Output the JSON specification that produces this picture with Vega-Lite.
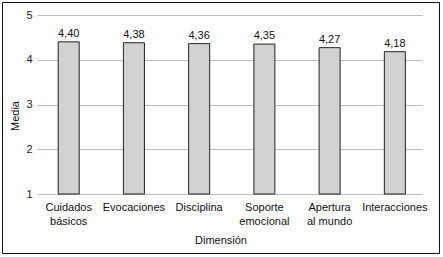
{
  "$schema": "https://vega.github.io/schema/vega-lite/v6.json",
  "width": 437,
  "height": 251,
  "autosize": {"type": "none"},
  "padding": {"left": 2, "top": 2, "right": 4, "bottom": 4},
  "background": "white",
  "config": {
    "view": {"stroke": "#111", "strokeWidth": 1},
    "font": "Liberation Sans",
    "locale": {"number": {"decimal": ",", "thousands": ".", "grouping": [3], "currency": ["", " €"]}}
  },
  "data": {
    "values": [
      {"Dimensión": "Cuidados básicos", "Media": 4.40},
      {"Dimensión": "Evocaciones", "Media": 4.38},
      {"Dimensión": "Disciplina", "Media": 4.36},
      {"Dimensión": "Soporte emocional", "Media": 4.35},
      {"Dimensión": "Apertura al mundo", "Media": 4.27},
      {"Dimensión": "Interacciones", "Media": 4.18}
    ]
  },
  "encoding": {
    "x": {
      "field": "Dimensión",
      "type": "nominal",
      "sort": null,
      "scale": {"range": [35, 420], "paddingInner": 0.678, "paddingOuter": 0.29, "align": 0.56},
      "axis": {
        "offset": -59,
        "labelAngle": 0,
        "domain": false,
        "ticks": false,
        "tickSize": 0,
        "labelPadding": 7,
        "labelFontSize": 11,
        "labelColor": "#111",
        "labelLineHeight": 14,
        "labelExpr": "datum.label == 'Apertura al mundo' ? ['Apertura', 'al mundo'] : split(datum.label, ' ')",
        "title": "Dimensión",
        "titleFontSize": 11,
        "titleFontWeight": "normal",
        "titleColor": "#111",
        "titleX": 218.5,
        "titleY": 46,
        "titleAlign": "center",
        "titleBaseline": "middle",
        "titleAnchor": null
      }
    },
    "y": {
      "field": "Media",
      "type": "quantitative",
      "scale": {"domain": [1, 5], "range": [192, 13], "nice": false, "zero": false},
      "axis": {
        "offset": -35,
        "values": [1, 2, 3, 4, 5],
        "domain": false,
        "ticks": false,
        "tickSize": 0,
        "labelPadding": 5,
        "labelFontSize": 11,
        "labelColor": "#222",
        "gridColor": "#bdbdbd",
        "gridWidth": 1,
        "title": "Media",
        "titleFontSize": 11,
        "titleFontWeight": "normal",
        "titleColor": "#111",
        "titleAngle": -90,
        "titleX": -22,
        "titleY": 113.5,
        "titleAlign": "center",
        "titleBaseline": "middle",
        "titleAnchor": null
      }
    }
  },
  "layer": [
    {
      "mark": {"type": "bar", "fill": "#d2d2d2", "stroke": "#222", "strokeWidth": 1},
      "encoding": {"y2": {"datum": 1}}
    },
    {
      "mark": {"type": "text", "baseline": "bottom", "dy": -3, "fontSize": 11, "color": "#111"},
      "encoding": {"text": {"field": "Media", "type": "quantitative", "format": ".2f"}}
    }
  ]
}
